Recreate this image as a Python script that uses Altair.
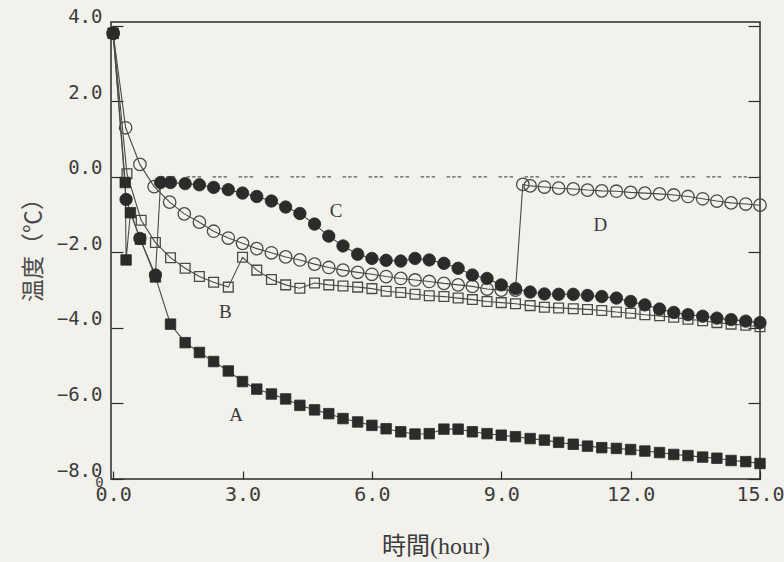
import altair as alt
import pandas as pd

# --- measured temperatures (deg C) against time (hours) for four samples ---
a_time = [0, 0.28, 0.30, 0.40, 0.63, 0.98, 1.33, 1.67, 2.0, 2.33, 2.67, 3.0, 3.33, 3.67,
          4.0, 4.33, 4.67, 5.0, 5.33, 5.67, 6.0, 6.33, 6.67, 7.0, 7.33, 7.67, 8.0, 8.33,
          8.67, 9.0, 9.33, 9.67, 10.0, 10.33, 10.67, 11.0, 11.33, 11.67, 12.0, 12.33,
          12.67, 13.0, 13.33, 13.67, 14.0, 14.33, 14.67, 15.0]
a_temp = [3.8, -0.15, -2.2, -0.95, -1.65, -2.65, -3.9, -4.39, -4.65, -4.89, -5.14, -5.42,
          -5.62, -5.75, -5.88, -6.05, -6.17, -6.27, -6.40, -6.49, -6.58, -6.67, -6.75,
          -6.81, -6.80, -6.68, -6.68, -6.75, -6.80, -6.84, -6.88, -6.93, -6.97, -7.03,
          -7.08, -7.13, -7.17, -7.19, -7.22, -7.26, -7.30, -7.35, -7.38, -7.42, -7.45,
          -7.51, -7.54, -7.59]

b_time = [0, 0.32, 0.65, 0.98, 1.33, 1.67, 2.0, 2.33, 2.67, 3.0, 3.33, 3.67, 4.0, 4.33,
          4.67, 5.0, 5.33, 5.67, 6.0, 6.33, 6.67, 7.0, 7.33, 7.67, 8.0, 8.33, 8.67, 9.0,
          9.33, 9.67, 10.0, 10.33, 10.67, 11.0, 11.33, 11.67, 12.0, 12.33, 12.67, 13.0,
          13.33, 13.67, 14.0, 14.33, 14.67, 15.0]
b_temp = [3.8, 0.08, -1.15, -1.74, -2.14, -2.42, -2.64, -2.79, -2.92, -2.13, -2.47, -2.72,
          -2.86, -2.95, -2.81, -2.86, -2.89, -2.92, -2.96, -3.03, -3.06, -3.11, -3.15,
          -3.17, -3.21, -3.25, -3.30, -3.33, -3.36, -3.41, -3.45, -3.47, -3.49, -3.51,
          -3.54, -3.58, -3.61, -3.65, -3.68, -3.72, -3.77, -3.81, -3.86, -3.90, -3.93, -3.97]

c_time = [0, 0.30, 0.62, 0.98, 1.10, 1.33, 1.67, 2.0, 2.33, 2.67, 3.0, 3.33, 3.67, 4.0,
          4.33, 4.67, 5.0, 5.33, 5.67, 6.0, 6.33, 6.67, 7.0, 7.33, 7.67, 8.0, 8.33, 8.67,
          9.0, 9.33, 9.67, 10.0, 10.33, 10.67, 11.0, 11.33, 11.67, 12.0, 12.33, 12.67,
          13.0, 13.33, 13.67, 14.0, 14.33, 14.67, 15.0]
c_temp = [3.8, -0.6, -1.63, -2.6, -0.15, -0.15, -0.18, -0.21, -0.28, -0.34, -0.43, -0.52,
          -0.64, -0.80, -0.97, -1.25, -1.57, -1.83, -2.05, -2.16, -2.21, -2.23, -2.16,
          -2.20, -2.29, -2.42, -2.60, -2.69, -2.86, -2.96, -3.05, -3.10, -3.11, -3.11,
          -3.14, -3.17, -3.21, -3.30, -3.39, -3.50, -3.59, -3.65, -3.69, -3.74, -3.78,
          -3.82, -3.86]

d_time = [0, 0.29, 0.62, 0.95, 1.31, 1.65, 2.0, 2.33, 2.67, 3.0, 3.33, 3.67, 4.0, 4.33,
          4.67, 5.0, 5.33, 5.67, 6.0, 6.33, 6.67, 7.0, 7.33, 7.67, 8.0, 8.33, 8.67, 9.0,
          9.33, 9.50, 9.67, 10.0, 10.33, 10.67, 11.0, 11.33, 11.67, 12.0, 12.33, 12.67,
          13.0, 13.33, 13.67, 14.0, 14.33, 14.67, 15.0]
d_temp = [3.8, 1.3, 0.33, -0.26, -0.67, -0.98, -1.20, -1.44, -1.62, -1.76, -1.90, -2.01,
          -2.12, -2.20, -2.31, -2.40, -2.47, -2.53, -2.58, -2.64, -2.69, -2.73, -2.77,
          -2.82, -2.86, -2.90, -2.97, -3.0, -3.0, -0.2, -0.24, -0.27, -0.30, -0.32, -0.35,
          -0.37, -0.38, -0.41, -0.43, -0.45, -0.48, -0.52, -0.58, -0.64, -0.69, -0.72, -0.75]

# curve labels and where they sit (time, temperature)
label_text = ["A", "B", "C", "D"]
label_time = [2.85, 2.6, 5.17, 11.3]
label_temp = [-6.3, -3.57, -0.9, -1.27]

y_ticks = [4, 2, 0, -2, -4, -6, -8]
x_ticks = [0, 3, 6, 9, 12, 15]

INK = "#2b2b2b"
LINE = "#4a4a4a"
MONO = "DejaVu Sans Mono"
SERIF = "'Liberation Serif', 'Noto Sans CJK JP'"

rows = []
for name, ts, vs in [("A", a_time, a_temp), ("B", b_time, b_temp),
                     ("C", c_time, c_temp), ("D", d_time, d_temp)]:
    for i, (t, v) in enumerate(zip(ts, vs)):
        rows.append({"s": name, "i": i, "t": t, "v": v})
df = pd.DataFrame(rows)

xscale = alt.Scale(domain=[-0.05, 15], nice=False, zero=False)
yscale = alt.Scale(domain=[-8, 4.1], nice=False, zero=False)

x_axis = alt.Axis(values=x_ticks, format=".1f", title="時間(hour)", grid=False,
                  domain=False, offset=-8, tickSize=8, tickColor=INK, tickWidth=1.2,
                  labelFont=MONO, labelFontSize=20, labelColor="#3c3c3c", labelPadding=5,
                  labelFlush=False, titleFont=SERIF, titleFontSize=24,
                  titleFontWeight="normal", titleColor="#3c3c3c", titlePadding=30)
y_axis = alt.Axis(values=y_ticks, format=".1f", title="温度（℃）", grid=False,
                  domain=False, offset=-12, tickSize=12, tickColor=INK, tickWidth=1.2,
                  labelFont=MONO, labelFontSize=19, labelColor="#3c3c3c", labelPadding=9,
                  labelBaseline="middle", labelOffset=-9, labelFlush=False,
                  titleFont="Noto Sans CJK JP", titleFontSize=23, titleFontWeight="normal",
                  titleColor="#4a4a4a", titlePadding=11, titleY=222)
y_axis_right = alt.Axis(values=y_ticks, orient="right", title=None, labels=False,
                        grid=False, domain=False, offset=-12, tickSize=12,
                        tickColor=INK, tickWidth=1.2)


def xy(y_ax=None):
    """Shared time / temperature encodings; only chosen layers draw a y axis."""
    return dict(x=alt.X("t:Q", scale=xscale, axis=x_axis),
                y=alt.Y("v:Q", scale=yscale, axis=y_ax))


lines = alt.Chart(df).mark_line(color=LINE, strokeWidth=1.1).encode(
    detail="s:N", order="i:Q", **xy(y_axis))


def points(series, shape, filled, size):
    if filled:
        style = dict(shape=shape, filled=True, fill=INK, stroke=INK,
                     strokeWidth=0.8, size=size, opacity=1)
    else:
        style = dict(shape=shape, filled=False, stroke=LINE,
                     strokeWidth=1.3, size=size, opacity=1)
    return alt.Chart(df).transform_filter(alt.datum.s == series).mark_point(
        **style).encode(**xy())


pts_a = points("A", "square", True, 110)
pts_b = points("B", "square", False, 95)
pts_c = points("C", "circle", True, 155)
pts_d = points("D", "circle", False, 155)

# dotted freezing-point reference at 0 degrees, also carrying the right-hand ticks
zero_df = pd.DataFrame({"t": [1.1], "t2": [15.0], "v": [0.0]})
zero_line = alt.Chart(zero_df).mark_rule(
    color="#5a5a5a", strokeWidth=1.1, strokeDash=[3.5, 2, 3.5, 2, 3.5, 11.5]
).encode(x2="t2:Q", **xy(y_axis_right))

lab_df = pd.DataFrame({"t": label_time, "v": label_temp, "txt": label_text})
labels = alt.Chart(lab_df).mark_text(
    font="Liberation Serif", fontSize=19, color="#3a3a3a"
).encode(text="txt:N", **xy())

stray_df = pd.DataFrame({"t": [-0.22], "v": [-8.1], "txt": ["0"]})
stray = alt.Chart(stray_df).mark_text(
    font=MONO, fontSize=14, color="#3c3c3c", align="right", baseline="middle"
).encode(text="txt:N", **xy())

chart = alt.layer(
    lines, zero_line, pts_b, pts_d, pts_a, pts_c, labels, stray
).resolve_axis(y="independent").properties(
    width=649, height=457,
    autosize=alt.AutoSizeParams(type="none"),
    padding={"left": 111, "top": 22, "right": 24, "bottom": 83},
    background="#f3f1ec",
).configure_view(stroke=INK, strokeWidth=1.5)

chart.save("out.html", embed_options={"renderer": "svg", "actions": False})
